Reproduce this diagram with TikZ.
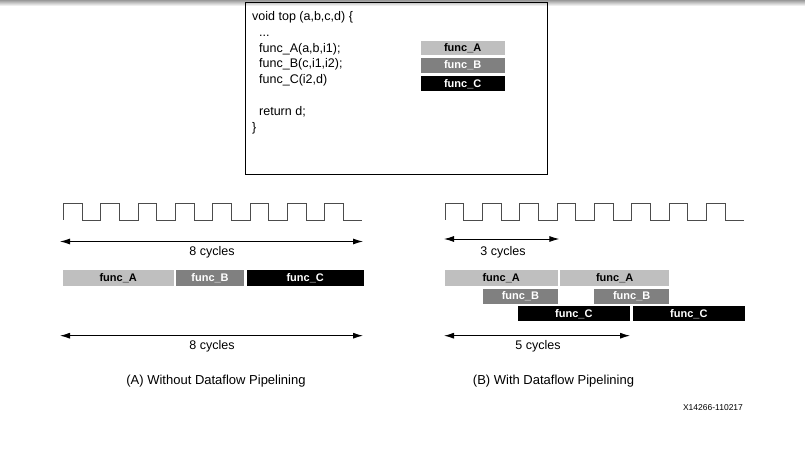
\documentclass[tikz,border=0pt]{standalone}
\usepackage{fontspec}
\setmainfont{Liberation Sans}
\usetikzlibrary{arrows.meta}
\tikzset{
  clock/.style={draw=black!70, line width=0.9pt},
  dim/.style={draw=black, line width=0.9pt, {Latex[length=10pt,width=6pt]}-{Latex[length=10pt,width=6pt]}},
  bar/.style={anchor=north west, inner sep=0pt, font=\fontsize{11}{12}\selectfont\bfseries},
  barA/.style={bar, fill=black!25, text=black},
  barB/.style={bar, fill=black!50, text=white},
  barC/.style={bar, fill=black, text=white},
  lbl/.style={font=\fontsize{12.5}{14}\selectfont, inner sep=0pt},
  code/.style={font=\fontsize{12.5}{14}\selectfont, anchor=base west, inner sep=0pt},
}
\begin{document}
\begin{tikzpicture}[x=1pt,y=-1pt]
\useasboundingbox (0,0) rectangle (805,470);
\fill[white] (0,0) rectangle (805,470);
\shade[top color=black!40, bottom color=white] (0,0) rectangle (805,6);

% code box
\node[draw=black, line width=1.3pt, anchor=north west, minimum width=302pt, minimum height=172pt, inner sep=0pt] (box) at (245,1.7) {};
\node[code] (l1) at (252,20.5) {void top (a,b,c,d) \{};
\node[code] (l2) at (259,36.5) {...};
\node[code] (l3) at (259,52.5) {func\_A(a,b,i1);};
\node[code] (l4) at (259,68) {func\_B(c,i1,i2);};
\node[code] (l5) at (259,84) {func\_C(i2,d)};
\node[code] (l6) at (259,116) {return d;};
\node[code] (l7) at (252,132) {\}};

% legend
\node[barA, minimum width=83.6pt, minimum height=14.3pt] (legA) at (420.7,40.7) {func\_A};
\node[barB, minimum width=83.6pt, minimum height=14.3pt] (legB) at (420.7,58.3) {func\_B};
\node[barC, minimum width=83.6pt, minimum height=14.7pt] (legC) at (420.7,76.2) {func\_C};

% clocks
\def\hp{18.67}
\draw[clock] (63.3,220) \foreach \i in {1,...,8}{ -- ++(0,-17) -- ++(\hp,0) -- ++(0,17) -- ++(\hp,0)};
\draw[clock] (445,220) \foreach \i in {1,...,8}{ -- ++(0,-17) -- ++(\hp,0) -- ++(0,17) -- ++(\hp,0)};

% (A) without pipelining
\coordinate (a8s) at (60,241.5);
\coordinate (a8e) at (363,241.5);
\draw[dim] (a8s) -- (a8e);
\node[lbl] (a8l) at (212,252) {8 cycles};

\node[barA, minimum width=110.6pt, minimum height=15.7pt] (fa) at (62.7,270) {func\_A};
\node[barB, minimum width=68.3pt, minimum height=15.7pt] (fb) at (175.7,270) {func\_B};
\node[barC, minimum width=116.6pt, minimum height=15.7pt] (fc) at (246.7,270) {func\_C};

\coordinate (b8s) at (60,335.7);
\coordinate (b8e) at (363,335.7);
\draw[dim] (b8s) -- (b8e);
\node[lbl] (b8l) at (212,346) {8 cycles};

\node[font=\fontsize{13}{15}\selectfont, inner sep=0pt] (capA) at (216,381.5) {(A) Without Dataflow Pipelining};

% (B) with pipelining
\coordinate (c3s) at (444,239);
\coordinate (c3e) at (559.3,239);
\draw[dim] (c3s) -- (c3e);
\node[lbl] (c3l) at (503,252) {3 cycles};

\node[barA, minimum width=113.4pt, minimum height=15.7pt] (pa1) at (444.3,270) {func\_A};
\node[barA, minimum width=109pt, minimum height=15.7pt] (pa2) at (560,270) {func\_A};
\node[barB, minimum width=75pt, minimum height=15pt] (pb1) at (482.7,288.3) {func\_B};
\node[barB, minimum width=75pt, minimum height=15pt] (pb2) at (594,288.3) {func\_B};
\node[barC, minimum width=112.7pt, minimum height=15pt] (pc1) at (517.3,306) {func\_C};
\node[barC, minimum width=112.7pt, minimum height=15pt] (pc2) at (632.3,306) {func\_C};

\coordinate (c5s) at (444,335.7);
\coordinate (c5e) at (630,335.7);
\draw[dim] (c5s) -- (c5e);
\node[lbl] (c5l) at (538,346) {5 cycles};

\node[font=\fontsize{13}{15}\selectfont, inner sep=0pt] (capB) at (553.5,381) {(B) With Dataflow Pipelining};

\node[font=\fontsize{8.5}{10}\selectfont, inner sep=0pt] (fig) at (713,407.7) {X14266-110217};
\end{tikzpicture}
\end{document}
